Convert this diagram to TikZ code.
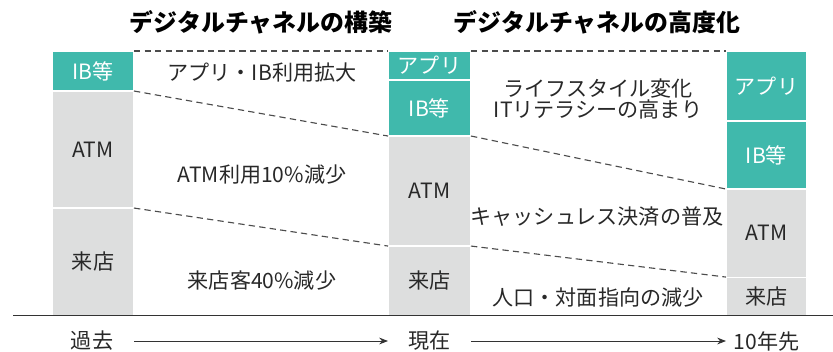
\documentclass[tikz,border=0pt]{standalone}
\usepackage{fontspec}
\setmainfont{Noto Sans CJK JP}
\usepackage{tikz}
\usetikzlibrary{arrows.meta, positioning}
\usepackage{xcolor}
\definecolor{chteal}{RGB}{64,185,172}
\definecolor{chgrey}{RGB}{221,222,222}
\definecolor{chtext}{RGB}{40,40,40}

\begin{document}
\begin{tikzpicture}[x=0.025cm, y=-0.025cm, >={Stealth[length=2.2mm, width=1.7mm]}, node distance=0pt,
    every node/.style={text=chtext, font=\fontsize{15}{18}\selectfont},
    bar/.style={draw=white, line width=0.8pt, inner sep=0pt, outer sep=0pt, anchor=north},
    newch/.style={bar, fill=chteal, text=white},
    oldch/.style={bar, fill=chgrey},
    trend/.style={draw=black!70, line width=0.8pt, dash pattern=on 4.5pt off 3pt},
    heading/.style={font=\fontsize{17}{20}\selectfont\bfseries, text=black},
    timeline/.style={draw=black!80, line width=0.6pt}]
    \useasboundingbox (0,0) rectangle (833,351);
    % headings
    \node[heading] (h1) at (261,22) {デジタルチャネルの構築};
    \node[heading] (h2) at (597,22) {デジタルチャネルの高度化};
    % past
    \node[newch, minimum width=2.05cm, minimum height=1cm] (ib1) at (93,51) {IB等};
    \node[oldch, minimum width=2.05cm, minimum height=2.925cm, below=of ib1] (atm1) {ATM};
    \node[oldch, minimum width=2.05cm, minimum height=2.675cm, below=of atm1] (shop1) {来店};
    % now
    \node[newch, minimum width=2.075cm, minimum height=0.725cm] (app2) at (429.5,51) {アプリ};
    \node[newch, minimum width=2.075cm, minimum height=1.4cm, below=of app2] (ib2) {IB等};
    \node[oldch, minimum width=2.075cm, minimum height=2.75cm, below=of ib2] (atm2) {ATM};
    \node[oldch, minimum width=2.075cm, minimum height=1.725cm, below=of atm2] (shop2) {来店};
    % 10 years
    \node[newch, minimum width=2.025cm, minimum height=1.75cm] (app3) at (766.5,51) {アプリ};
    \node[newch, minimum width=2.025cm, minimum height=1.7cm, below=of app3] (ib3) {IB等};
    \node[oldch, minimum width=2.025cm, minimum height=2.2cm, below=of ib3] (atm3) {ATM};
    \node[oldch, minimum width=2.025cm, minimum height=0.95cm, below=of atm3] (shop3) {来店};
    % trends
    \draw[trend] (ib1.north east) -- (app2.north west);
    \draw[trend] (app2.north east) -- (app3.north west);
    \draw[trend] (ib1.south east) -- (ib2.south west);
    \draw[trend] (ib2.south east) -- (ib3.south west);
    \draw[trend] (atm1.south east) -- (atm2.south west);
    \draw[trend] (atm2.south east) -- (atm3.south west);
    \node (t1) at (262,73) {アプリ・IB利用拡大};
    \node (t2) at (262,175) {ATM利用10\%減少};
    \node (t3) at (262,280) {来店客40\%減少};
    \node[align=center, font=\fontsize{15}{15.6}\selectfont] (t4) at (598,99) {ライフスタイル変化\\ITリテラシーの高まり};
    \node (t5) at (597,217) {キャッシュレス決済の普及};
    \node (t6) at (598,297) {人口・対面指向の減少};
    % time axis
    \draw[timeline] (13,315) -- (833,315);
    \node (past) at (92,341) {過去};
    \node (now) at (429.5,341) {現在};
    \node (future) at (766.5,341) {10年先};
    \draw[timeline, ->] (past -| shop1.east) -- (now -| shop2.west);
    \draw[timeline, ->] (now -| shop2.east) -- (future -| shop3.west);
\end{tikzpicture}
\end{document}
